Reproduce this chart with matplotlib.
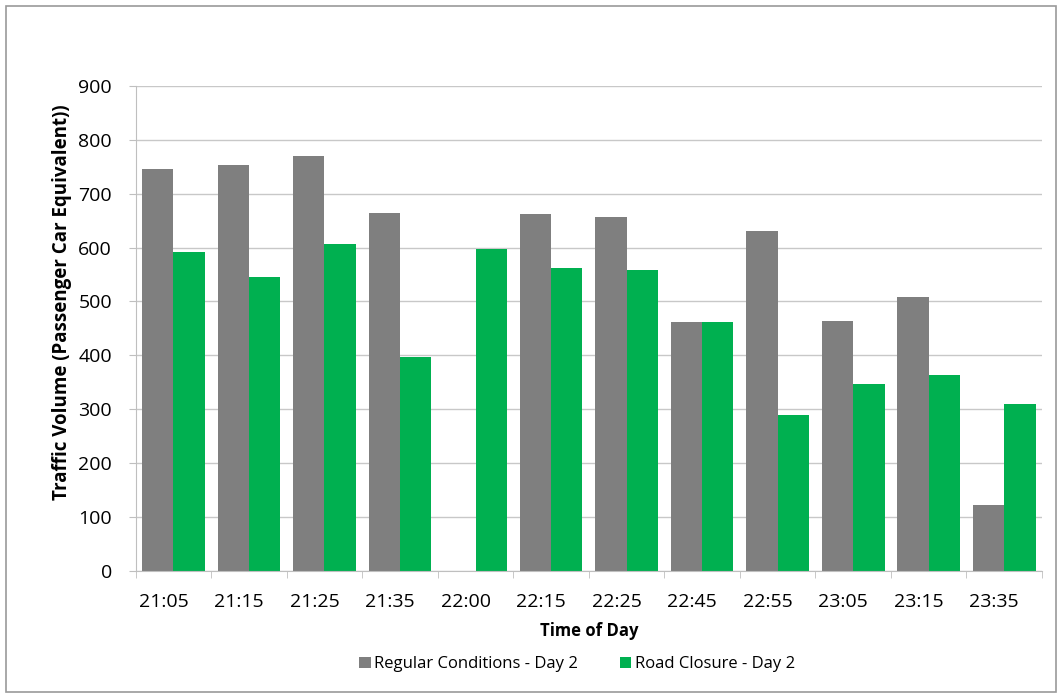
import matplotlib.pyplot as plt
import numpy as np
from matplotlib.patches import Rectangle
from matplotlib.transforms import ScaledTranslation

plt.rcParams["font.family"] = ["Open Sans", "DejaVu Sans"]

times = ["21:05", "21:15", "21:25", "21:35", "22:00", "22:15",
         "22:25", "22:45", "22:55", "23:05", "23:15", "23:35"]
regular_day2 = [745, 754, 770, 664, 0, 663, 656, 462, 630, 464, 508, 122]
closure_day2 = [592, 546, 607, 397, 597, 562, 558, 462, 290, 346, 364, 310]

GRAY = "#7f7f7f"
GREEN = "#00b050"
AXIS_GRAY = "#bfbfbf"

fig = plt.figure(figsize=(10.6, 6.98), dpi=100)
ax = fig.add_axes([0.128, 0.182, 0.855, 0.695])

x = np.arange(len(times))
w = 0.415
ax.bar(x - w / 2, regular_day2, width=w, color=GRAY, label="Regular Conditions - Day 2")
ax.bar(x + w / 2, closure_day2, width=w, color=GREEN, label="Road Closure - Day 2")

ax.set_xlim(-0.5, len(times) - 0.5)
ax.set_ylim(0, 900)
ax.set_yticks(np.arange(0, 901, 100))
ax.yaxis.grid(True, color="#c8c8c8", linewidth=1)
ax.set_axisbelow(True)

# tick marks sit between groups, labels under the groups
ax.set_xticks(x)
ax.set_xticklabels(times)
ax.set_xticks(np.arange(-0.5, len(times), 1), minor=True)
ax.tick_params(axis="x", which="major", length=0, labelsize=14, pad=16)
ax.tick_params(axis="x", which="minor", length=5, color=AXIS_GRAY, direction="out")
ax.tick_params(axis="y", length=5, color=AXIS_GRAY, labelsize=14, pad=12)

# labels in the source sit a little left of the bar pairs
shift = ScaledTranslation(-0.1, 0, fig.dpi_scale_trans)
for lbl in ax.get_xticklabels():
    lbl.set_transform(lbl.get_transform() + shift)

for side in ("top", "right"):
    ax.spines[side].set_visible(False)
for side in ("left", "bottom"):
    ax.spines[side].set_color(AXIS_GRAY)

ax.set_ylabel("Traffic Volume (Passenger Car Equivalent))", fontsize=13.5,
              fontweight="bold")
ax.yaxis.set_label_coords(-0.070, 0.554)
ax.set_xlabel("Time of Day", fontsize=12, fontweight="bold", labelpad=8)

ax.legend(loc="upper center", bbox_to_anchor=(0.487, -0.145), ncol=2, frameon=False,
          fontsize=12, handlelength=0.7, handleheight=0.7, handletextpad=0.2,
          columnspacing=2.5)

# outer chart frame
fig.patches.append(Rectangle((0.006, 0.008), 0.99, 0.984, transform=fig.transFigure,
                             fill=False, edgecolor="#9a9a9a", linewidth=1.2))

fig.savefig("out.png", dpi=100)
